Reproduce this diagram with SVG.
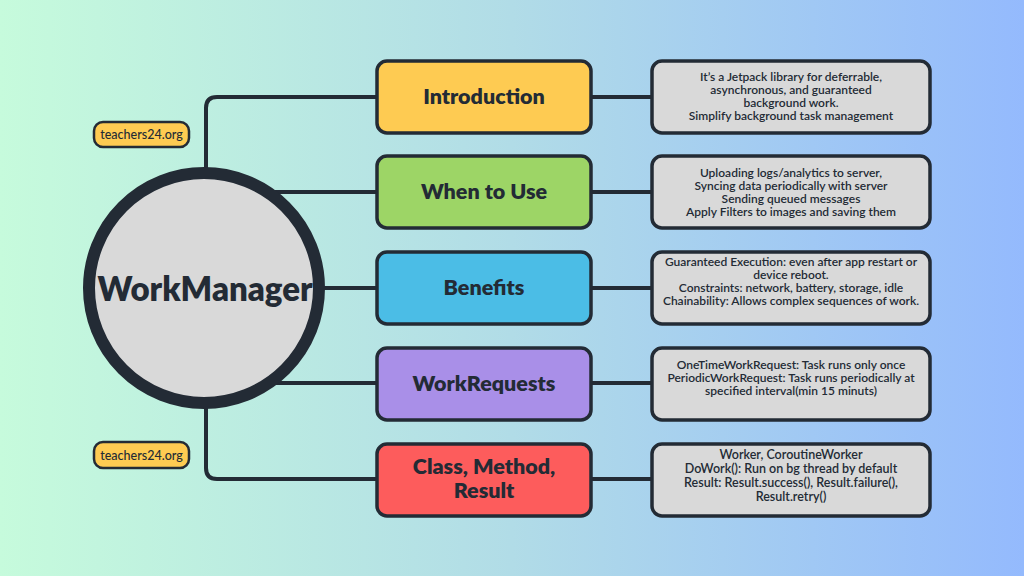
<svg xmlns="http://www.w3.org/2000/svg" width="1024" height="576" viewBox="0 0 1024 576">
<defs>
<linearGradient id="bg" x1="0" y1="0" x2="1" y2="0">
<stop offset="0" stop-color="#c6fbdc"/>
<stop offset="0.5" stop-color="#b1dce7"/>
<stop offset="1" stop-color="#94bafd"/>
</linearGradient>
<style>
.ln{fill:none;stroke:#232b35;stroke-width:4;stroke-linejoin:round}
.box{stroke:#232b35;stroke-width:3.5}
.title{font-family:Lato,"Liberation Sans",sans-serif;font-weight:800;font-size:21.5px;fill:#232b35;text-anchor:middle}
.desc{font-family:Lato,"Liberation Sans",sans-serif;font-weight:600;font-size:12px;fill:#232b35;text-anchor:middle}
.desc2{font-family:Lato,"Liberation Sans",sans-serif;font-weight:600;font-size:12.5px;fill:#232b35;text-anchor:middle}
.badge{font-family:Lato,"Liberation Sans",sans-serif;font-weight:500;font-size:12.5px;fill:#232b35;text-anchor:middle}
</style>
</defs>
<rect width="1024" height="576" fill="url(#bg)"/>
<g id="connectors">
<path class="ln" d="M206,170 V108 Q206,97 217,97 H378"/>
<path class="ln" d="M206,406 V468 Q206,479 217,479 H378"/>
<path class="ln" d="M275,192 H378"/>
<path class="ln" d="M320,288 H378"/>
<path class="ln" d="M275,383 H378"/>
<path class="ln" d="M591,97 H653"/>
<path class="ln" d="M591,192 H653"/>
<path class="ln" d="M591,288 H653"/>
<path class="ln" d="M591,383 H653"/>
<path class="ln" d="M591,479 H653"/>
</g>
<g id="center">
<circle cx="204" cy="288" r="115" fill="#d9d9d9" stroke="#232b35" stroke-width="12"/>
<text x="205" y="301" font-family="Lato,'Liberation Sans',sans-serif" font-weight="800" font-size="33" fill="#232b35" text-anchor="middle">WorkManager</text>
</g>
<g id="badge1">
<rect x="94" y="122" width="95" height="25" rx="9" fill="#fecb52" stroke="#232b35" stroke-width="2.5"/>
<text class="badge" x="141.5" y="139">teachers24.org</text>
</g>
<g id="badge2">
<rect x="94" y="442" width="95" height="26" rx="9" fill="#fecb52" stroke="#232b35" stroke-width="2.5"/>
<text class="badge" x="141.5" y="459.5">teachers24.org</text>
</g>
<g id="introduction">
<rect class="box" x="377" y="61" width="214" height="72" rx="10" fill="#fecb52"/>
<text class="title" x="484" y="104">Introduction</text>
</g>
<g id="when-to-use">
<rect class="box" x="377" y="156" width="214" height="72" rx="10" fill="#9dd566"/>
<text class="title" x="484" y="199">When to Use</text>
</g>
<g id="benefits">
<rect class="box" x="377" y="252" width="214" height="72" rx="10" fill="#4bbde6"/>
<text class="title" x="484" y="295">Benefits</text>
</g>
<g id="workrequests">
<rect class="box" x="377" y="348" width="214" height="72" rx="10" fill="#a98fe8"/>
<text class="title" x="484" y="391">WorkRequests</text>
</g>
<g id="class-method-result">
<rect class="box" x="377" y="444" width="214" height="72" rx="10" fill="#fd5c5c"/>
<text class="title" x="484" y="474">Class, Method,</text>
<text class="title" x="484" y="498">Result</text>
</g>
<g id="intro-desc">
<rect class="box" x="652" y="61" width="278" height="72" rx="10" fill="#d9d9d9"/>
<text class="desc" x="791" y="81">It’s a Jetpack library for deferrable,</text>
<text class="desc" x="791" y="94">asynchronous, and guaranteed</text>
<text class="desc" x="791" y="107">background work.</text>
<text class="desc" x="791" y="120">Simplify background task management</text>
</g>
<g id="when-desc">
<rect class="box" x="652" y="156" width="278" height="72" rx="10" fill="#d9d9d9"/>
<text class="desc" x="791" y="177">Uploading logs/analytics to server,</text>
<text class="desc" x="791" y="190">Syncing data periodically with server</text>
<text class="desc" x="791" y="203">Sending queued messages</text>
<text class="desc" x="791" y="216">Apply  Filters to images and saving them</text>
</g>
<g id="benefits-desc">
<rect class="box" x="652" y="252" width="278" height="72" rx="10" fill="#d9d9d9"/>
<text class="desc" x="791" y="266">Guaranteed Execution: even after app restart or</text>
<text class="desc" x="791" y="279">device reboot.</text>
<text class="desc" x="791" y="292">Constraints: network, battery, storage, idle</text>
<text class="desc" x="791" y="305">Chainability: Allows complex sequences of work.</text>
</g>
<g id="workrequests-desc">
<rect class="box" x="652" y="348" width="278" height="72" rx="10" fill="#d9d9d9"/>
<text class="desc" x="791" y="369">OneTimeWorkRequest: Task runs only once</text>
<text class="desc" x="791" y="382">PeriodicWorkRequest: Task runs periodically at</text>
<text class="desc" x="791" y="395">specified interval(min 15 minuts)</text>
</g>
<g id="class-desc">
<rect class="box" x="652" y="444" width="278" height="72" rx="10" fill="#d9d9d9"/>
<text class="desc2" x="791" y="459">Worker, CoroutineWorker</text>
<text class="desc2" x="791" y="473">DoWork(): Run on bg thread by default</text>
<text class="desc2" x="791" y="487">Result: Result.success(), Result.failure(),</text>
<text class="desc2" x="791" y="501">Result.retry()</text>
</g>
</svg>
